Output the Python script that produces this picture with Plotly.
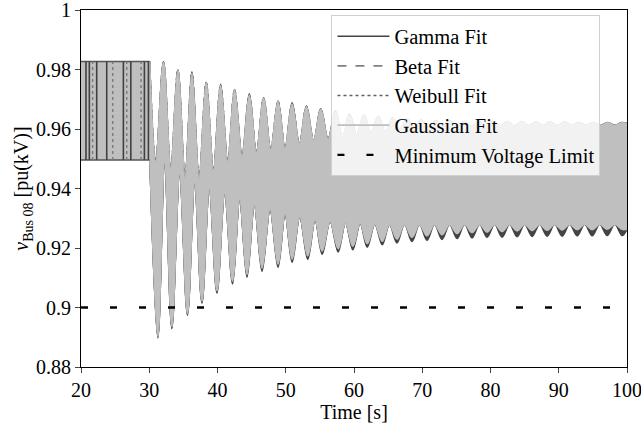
import plotly.graph_objects as go

# ---------------- data ----------------
t_start, t_fault, t_end = 20.0, 30.05, 100.0
prefault_high = 0.9827
prefault_low = 0.9496

# upper envelope: peaks and the dips between peaks
peak_t = [32.08, 34.19, 36.25, 38.35, 40.45, 42.50, 44.66, 46.76, 48.87, 50.93,
          53.03, 55.13, 57.28, 59.34, 61.44, 63.55, 65.65, 67.75, 69.85, 71.95,
          74.05, 76.15, 78.25, 80.35, 82.45, 84.55, 86.65, 88.75, 90.85, 92.95,
          95.05, 97.15, 99.25]
gauss_peak = [0.9823, 0.9797, 0.9786, 0.9755, 0.9746, 0.9731, 0.9713, 0.9703, 0.9692, 0.9683,
              0.9675, 0.9666, 0.9657, 0.9648, 0.9645, 0.9640, 0.9636, 0.9632, 0.9629, 0.9627,
              0.9626, 0.9625, 0.9624, 0.9624, 0.9623, 0.9623, 0.9622, 0.9622, 0.9622, 0.9621,
              0.9621, 0.9621, 0.9621]
gamma_peak = [0.9826, 0.9799, 0.9792, 0.9757, 0.9750, 0.9733, 0.9718, 0.9705, 0.9694, 0.9688,
              0.9677, 0.9668, 0.9660, 0.9650, 0.9647, 0.9642, 0.9637, 0.9633, 0.9630, 0.9628,
              0.9627, 0.9626, 0.9625, 0.9625, 0.9624, 0.9624, 0.9623, 0.9623, 0.9623, 0.9622,
              0.9622, 0.9622, 0.9622]
topdip_t = [30.95, 33.15, 35.25, 37.30, 39.40, 41.50, 43.60, 45.70, 47.80, 49.90,
            52.00, 54.10, 56.20, 58.30, 60.40, 62.50, 64.60, 66.70, 68.80, 70.90,
            73.00, 75.10, 77.20, 79.30, 81.40, 83.50, 85.60, 87.70, 89.80, 91.90,
            94.00, 96.10, 98.20]
gauss_topdip = [0.9490, 0.9465, 0.9440, 0.9435, 0.9460, 0.9490, 0.9510, 0.9520, 0.9530, 0.9535,
                0.9550, 0.9560, 0.9565, 0.9570, 0.9578, 0.9585, 0.9588, 0.9598, 0.9602, 0.9605,
                0.9607, 0.9608, 0.9609, 0.9610, 0.9610, 0.9610, 0.9611, 0.9611, 0.9611, 0.9611,
                0.9612, 0.9612, 0.9612]
end_top = 0.9618

# lower envelope: troughs and the bumps between troughs
trough_t = [31.26, 33.31, 35.60, 37.72, 39.92, 42.21, 44.32, 46.52, 48.87, 50.93,
            53.22, 55.33, 57.68, 59.83, 61.94, 64.14, 66.30, 68.50, 70.70, 72.90,
            75.10, 77.30, 79.50, 81.70, 83.90, 86.10, 88.30, 90.50, 92.70, 94.90,
            97.10, 99.30]
gauss_trough = [0.8903, 0.8936, 0.8980, 0.9022, 0.9057, 0.9088, 0.9112, 0.9133, 0.9146, 0.9163,
                0.9174, 0.9190, 0.9198, 0.9206, 0.9215, 0.9223, 0.9230, 0.9236, 0.9241, 0.9245,
                0.9249, 0.9252, 0.9254, 0.9256, 0.9258, 0.9259, 0.9260, 0.9261, 0.9262, 0.9262,
                0.9263, 0.9263]
gamma_trough = [0.8898, 0.8929, 0.8974, 0.9015, 0.9049, 0.9079, 0.9102, 0.9122, 0.9135, 0.9152,
                0.9162, 0.9179, 0.9187, 0.9194, 0.9203, 0.9211, 0.9217, 0.9222, 0.9226, 0.9229,
                0.9232, 0.9234, 0.9236, 0.9237, 0.9238, 0.9239, 0.9240, 0.9240, 0.9241, 0.9241,
                0.9242, 0.9242]
botbump_t = [32.25, 34.45, 36.65, 38.80, 41.05, 43.25, 45.40, 47.70, 49.90, 52.05,
             54.30, 56.50, 58.75, 60.90, 63.05, 65.20, 67.40, 69.60, 71.80, 74.00,
             76.20, 78.40, 80.60, 82.80, 85.00, 87.20, 89.40, 91.60, 93.80, 96.00,
             98.20]
gauss_botbump = [0.9490, 0.9450, 0.9420, 0.9400, 0.9385, 0.9365, 0.9345, 0.9330, 0.9315, 0.9305,
                 0.9295, 0.9290, 0.9285, 0.9283, 0.9281, 0.9280, 0.9280, 0.9280, 0.9280, 0.9280,
                 0.9280, 0.9280, 0.9280, 0.9280, 0.9280, 0.9280, 0.9280, 0.9280, 0.9280, 0.9280,
                 0.9280]
end_bottom = 0.9263

# pre-fault switching instants visible as vertical streaks
prefault_dark_t = [20.73, 21.22, 22.30, 23.77, 26.21, 27.30, 29.29, 29.88]
prefault_gray_t = [21.70, 24.65, 26.70, 28.80]

v_limit = 0.9

x_ticks = [20, 30, 40, 50, 60, 70, 80, 90, 100]
y_ticks = [0.88, 0.9, 0.92, 0.94, 0.96, 0.98, 1.0]
y_ticktext = ["0.88", "0.9", "0.92", "0.94", "0.96", "0.98", "1"]

fits = ["Gamma Fit", "Beta Fit", "Weibull Fit", "Gaussian Fit"]
fit_colors = ["#444444", "#808080", "#606060", "#bfbfbf"]
fit_dash = ["solid", "dash", "dot", "solid"]
light = fit_colors[3]


def interleave(ta, va, tb, vb):
    pts = sorted(list(zip(ta, va)) + list(zip(tb, vb)))
    return [p[0] for p in pts], [p[1] for p in pts]


def upper_curve(peaks):
    t, v = interleave(peak_t, peaks, topdip_t, gauss_topdip)
    return [t_fault] + t + [t_end], [prefault_high] + v + [end_top]


def lower_curve(troughs):
    t, v = interleave(trough_t, troughs, botbump_t, gauss_botbump)
    return [t_fault + 0.05] + t + [t_end], [prefault_low] + v + [end_bottom]


fig = go.Figure()
fit_peaks = [gamma_peak, gauss_peak, gauss_peak, gauss_peak]
fit_troughs = [gamma_trough, gauss_trough, gauss_trough, gauss_trough]
for name, col, dash, pk, tr in zip(fits, fit_colors, fit_dash, fit_peaks, fit_troughs):
    ux, uy = upper_curve(pk)
    lx, ly = lower_curve(tr)
    fig.add_trace(go.Scatter(x=ux, y=uy, mode="lines", name=name, legendgroup=name,
                             line=dict(color=col, width=1.6, dash=dash, shape="spline", smoothing=1.0)))
    fig.add_trace(go.Scatter(x=lx, y=ly, mode="lines", showlegend=False, legendgroup=name,
                             fill="tonexty", fillcolor=col,
                             line=dict(color=col, width=1.6, shape="spline", smoothing=1.0)))

# pre-fault band (all fits overlap here)
fig.add_trace(go.Scatter(x=[t_start, t_fault], y=[prefault_high, prefault_high], mode="lines",
                         showlegend=False, line=dict(color="#555555", width=1.5)))
fig.add_trace(go.Scatter(x=[t_start, t_fault], y=[prefault_low, prefault_low], mode="lines",
                         showlegend=False, fill="tonexty", fillcolor=light,
                         line=dict(color="#555555", width=1.5)))


def streaks(ts):
    xs, ys = [], []
    for t in ts:
        xs += [t, t, None]
        ys += [prefault_low, prefault_high, None]
    return xs, ys

sx, sy = streaks(prefault_dark_t)
fig.add_trace(go.Scatter(x=sx, y=sy, mode="lines", showlegend=False,
                         line=dict(color="#404040", width=1.6)))
gx, gy = streaks(prefault_gray_t)
fig.add_trace(go.Scatter(x=gx, y=gy, mode="lines", showlegend=False,
                         line=dict(color="#7a7a7a", width=1.4, dash="dot")))

# minimum voltage limit
fig.add_trace(go.Scatter(x=[t_start, t_end], y=[v_limit, v_limit], mode="lines",
                         name="Minimum Voltage Limit",
                         line=dict(color="black", width=2.3, dash="7px,22px")))

font_family = "Liberation Serif, DejaVu Serif, serif"
fig.update_layout(
    width=641, height=423,
    margin=dict(l=81, r=14, t=10, b=56),
    paper_bgcolor="white", plot_bgcolor="white",
    font=dict(family=font_family, size=20, color="black"),
    showlegend=True,
    legend=dict(x=0.4587, y=0.985, xanchor="left", yanchor="top",
                bgcolor="rgba(255,255,255,0.8)", bordercolor="#d0d0d0", borderwidth=1,
                font=dict(family=font_family, size=20.5, color="black"),
                itemwidth=52, tracegroupgap=0),
)
fig.update_xaxes(range=[20, 100], tickvals=x_ticks, ticks="outside", ticklen=5, tickwidth=1,
                 showline=True, linecolor="black", linewidth=1.2, mirror=True,
                 showgrid=False, zeroline=False, automargin=False, ticklabeloverflow="allow",
                 title=dict(text="Time [s]", font=dict(size=20), standoff=17))
fig.update_yaxes(range=[0.88, 1.0], tickvals=y_ticks, ticktext=y_ticktext, ticks="outside",
                 ticklen=5, tickwidth=1, showline=True, linecolor="black", linewidth=1.2,
                 mirror=True, showgrid=False, zeroline=False, automargin=False,
                 ticklabeloverflow="allow",
                 title=dict(text="<i>v</i><sub>Bus 08</sub> [pu(kV)]", font=dict(size=20), standoff=1))

fig.write_html("out.html", config={"displayModeBar": False},
               post_script="document.body.style.margin='0';document.body.style.padding='0';")
